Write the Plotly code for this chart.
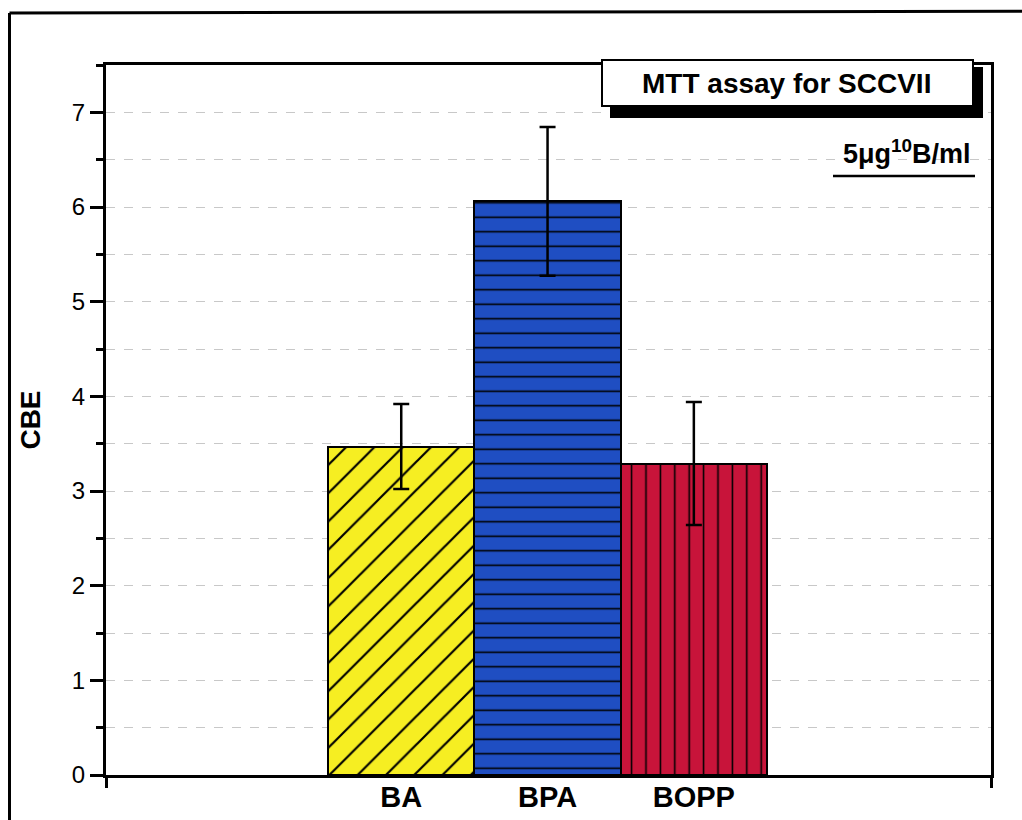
import plotly.graph_objects as go

# ---- data ----
categories = ["BA", "BPA", "BOPP"]
x_pos = [1, 2, 3]
cbe_values = [3.47, 6.06, 3.29]
cbe_errors = [0.45, 0.785, 0.65]
bar_colors = ["#F6EE22", "#1F4EC2", "#C8143A"]
hatch_shapes = ["/", "-", "|"]
hatch_sizes = [20, 14.5, 14.4]
y_tick_vals = [0, 1, 2, 3, 4, 5, 6, 7]

W, H = 1022, 820
ML, MR, MT, MB = 106, 31, 65, 44.5
PW, PH = W - ML - MR, H - MT - MB
x_range = [-1.018, 5.031]
y_range = [0, 7.5]

def px(xpix):
    return (xpix - ML) / PW

def py(ypix):
    return (H - MB - ypix) / PH

FONT = "Arial, 'Liberation Sans', sans-serif"

fig = go.Figure()
for i in range(len(categories)):
    fig.add_trace(go.Bar(
        x=[x_pos[i]], y=[cbe_values[i]], width=1,
        marker=dict(
            color=bar_colors[i],
            line=dict(color="black", width=2),
            pattern=dict(shape=hatch_shapes[i], size=hatch_sizes[i], solidity=0.11,
                         fgcolor="black", fgopacity=1, fillmode="overlay"),
        ),
        error_y=dict(type="data", array=[cbe_errors[i]], visible=True,
                     color="black", thickness=2.5, width=8),
        showlegend=False,
    ))

shapes = [
    # outer frame (left and top only visible in the scan)
    dict(type="line", xref="paper", yref="paper", x0=px(9.5), x1=px(9.5), y0=py(13), y1=py(900), line=dict(color="black", width=3)),
    dict(type="line", xref="paper", yref="paper", x0=px(9.5), x1=px(1100), y0=py(13), y1=py(11), line=dict(color="black", width=3)),
    # title box shadow + box
    dict(type="rect", xref="paper", yref="paper", x0=px(610), x1=px(983), y0=py(67), y1=py(118), fillcolor="black", line=dict(width=0), layer="above"),
    dict(type="rect", xref="paper", yref="paper", x0=px(602), x1=px(973), y0=py(60), y1=py(106), fillcolor="white", line=dict(color="black", width=2), layer="above"),
    # underline of concentration label
    dict(type="line", xref="paper", yref="paper", x0=px(833), x1=px(975), y0=py(176), y1=py(176), line=dict(color="black", width=2.5), layer="above"),
]

annotations = [
    dict(text="<b>MTT assay for SCCVII</b>", xref="paper", yref="paper", x=px(786), y=py(84),
         showarrow=False, font=dict(family=FONT, size=28, color="black"), xanchor="center", yanchor="middle"),
    dict(text="<b>5\u03bcg<sup>10</sup>B/ml</b>", xref="paper", yref="paper", x=px(973), y=py(171),
         showarrow=False, font=dict(family=FONT, size=27, color="black"), xanchor="right", yanchor="bottom"),
]

fig.update_layout(
    width=W, height=H,
    margin=dict(l=ML, r=MR, t=MT, b=MB, pad=0, autoexpand=False),
    paper_bgcolor="white", plot_bgcolor="white",
    bargap=0,
    shapes=shapes,
    annotations=annotations,
    font=dict(family=FONT, color="black"),
)

fig.update_xaxes(
    range=x_range, tickmode="array", tickvals=x_pos, automargin=False,
    ticktext=["<b>%s</b>" % c for c in categories],
    tickfont=dict(family=FONT, size=29, color="black"),
    ticks="", ticklen=0, ticklabelstandoff=-6, showgrid=False, zeroline=False,
    showline=True, linecolor="black", linewidth=3, mirror=True,
    minor=dict(tickmode="array", tickvals=x_range, ticks="outside",
               ticklen=10, tickwidth=3, tickcolor="black", showgrid=False),
)

fig.update_yaxes(
    range=y_range, tickmode="array", tickvals=y_tick_vals, automargin=False,
    tickfont=dict(family=FONT, size=24, color="black"),
    ticks="outside", ticklen=13, tickwidth=3, tickcolor="black",
    showgrid=True, gridcolor="#c8c8c8", gridwidth=1, griddash="dash",
    zeroline=False,
    showline=True, linecolor="black", linewidth=3, mirror=True,
    title=dict(text="<b>CBE</b>", font=dict(family=FONT, size=28, color="black"), standoff=24),
    minor=dict(dtick=0.5, ticks="outside", ticklen=7, tickwidth=3, tickcolor="black",
               showgrid=True, gridcolor="#c8c8c8", gridwidth=1, griddash="dash"),
)

fig.write_html("out.html")
